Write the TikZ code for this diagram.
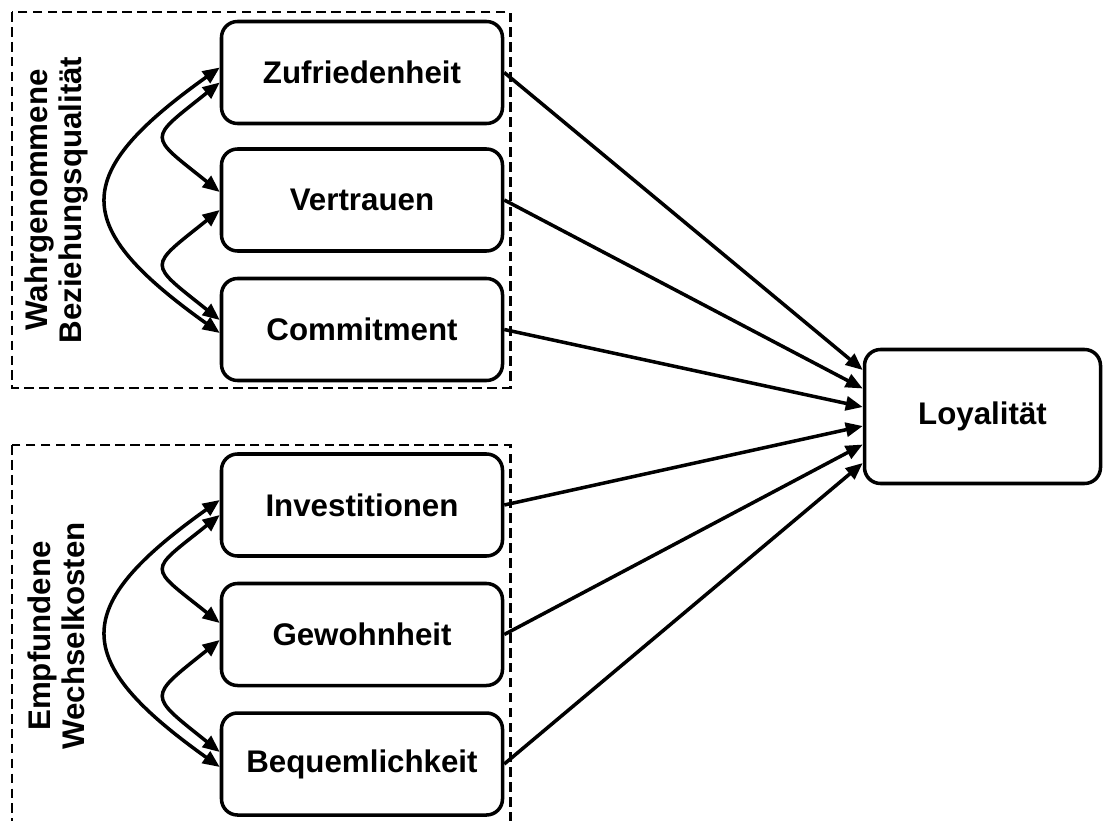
\documentclass[tikz,border=0pt]{standalone}
\usepackage{fontspec}
\setmainfont{Liberation Sans}
\usetikzlibrary{arrows.meta}

\begin{document}
\begin{tikzpicture}[
    construct/.style={draw, line width=2pt, rounded corners=0.32cm, minimum width=5.62cm, minimum height=2.04cm, font=\fontsize{17.8}{19.5}\selectfont\bfseries},
    groupbox/.style={draw, line width=1.7pt, dash pattern=on 5.5pt off 3pt},
    grouplabel/.style={rotate=90, align=center, font=\fontsize{17.8}{19.5}\selectfont\bfseries},
    link/.style={line width=2pt, -{Triangle[length=0.34cm, width=0.28cm]}},
    corr/.style={line width=2pt, {Triangle[length=0.34cm, width=0.28cm]}-{Triangle[length=0.34cm, width=0.28cm]}}
]
                            \useasboundingbox (0, 0) rectangle (22.06, -16.40);
                            % Groups, constructs and arrows:
                            \draw[groupbox] (0.24, -0.24) rectangle (10.20, -7.76);
                            \draw[groupbox] (0.24, -8.90) rectangle (10.20, -16.80);
                            \node[grouplabel] (wbq) at (1.13, -4.00) {Wahrgenommene\\Beziehungsqualität};
                            \node[grouplabel] (ewk) at (1.13, -12.72) {Empfundene\\Wechselkosten};
                            \node[construct] (zuf) at (7.24, -1.45) {Zufriedenheit};
                            \node[construct] (ver) at (7.24, -4.00) {Vertrauen};
                            \node[construct] (com) at (7.24, -6.59) {Commitment};
                            \node[construct] (inv) at (7.24, -10.10) {Investitionen};
                            \node[construct] (gew) at (7.24, -12.69) {Gewohnheit};
                            \node[construct] (beq) at (7.24, -15.28) {Bequemlichkeit};
                            \node[construct, minimum width=4.72cm, minimum height=2.68cm] (loy) at (19.65, -8.33) {Loyalität};
                            \draw[corr] ([yshift=-0.20cm]zuf.west) .. controls +(-1.45, -1.16) and +(-1.45, 1.16) .. ([yshift=0.16cm]ver.west);
                            \draw[corr] ([yshift=-0.20cm]ver.west) .. controls +(-1.45, -1.16) and +(-1.45, 1.16) .. ([yshift=0.19cm]com.west);
                            \draw[corr] ([yshift=0.10cm]zuf.west) .. controls +(-3.0, -2.14) and +(-3.0, 2.14) .. ([yshift=-0.07cm]com.west);
                            \draw[corr] ([yshift=-0.20cm]inv.west) .. controls +(-1.45, -1.16) and +(-1.45, 1.16) .. ([yshift=0.23cm]gew.west);
                            \draw[corr] ([yshift=-0.11cm]gew.west) .. controls +(-1.45, -1.16) and +(-1.45, 1.16) .. ([yshift=0.24cm]beq.west);
                            \draw[corr] ([yshift=0.10cm]inv.west) .. controls +(-3.0, -2.14) and +(-3.0, 2.14) .. ([yshift=-0.06cm]beq.west);
                            \draw[link] (zuf.east) -- ([yshift=0.93cm]loy.west);
                            \draw[link] (ver.east) -- ([yshift=0.56cm]loy.west);
                            \draw[link] (com.east) -- ([yshift=0.19cm]loy.west);
                            \draw[link] (inv.east) -- ([yshift=-0.19cm]loy.west);
                            \draw[link] (gew.east) -- ([yshift=-0.56cm]loy.west);
                            \draw[link] (beq.east) -- ([yshift=-0.93cm]loy.west);
                        \end{tikzpicture}
\end{document}
